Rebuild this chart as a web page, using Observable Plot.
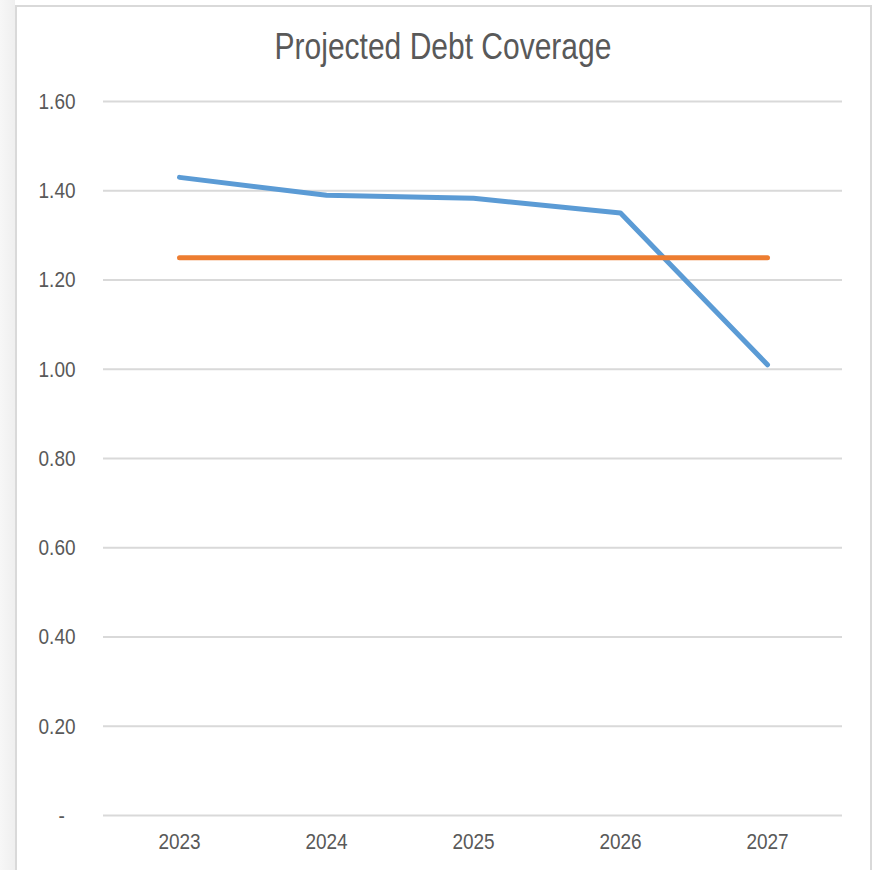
<!DOCTYPE html>
<html>
<head>
<meta charset="utf-8">
<script src="https://cdn.jsdelivr.net/npm/d3@7"></script>
<script src="https://cdn.jsdelivr.net/npm/@observablehq/plot@0.6"></script>
<style>
  html, body { margin: 0; padding: 0; background: #fff; }
  #page { position: relative; width: 872px; height: 870px; overflow: hidden; font-family: "Liberation Sans", Arial, sans-serif; }
  #strip { position: absolute; left: 0; top: 0; width: 15px; height: 870px; background: linear-gradient(to right, #f7f7f7, #efefef); }
  #frame { position: absolute; left: 15px; top: 5px; width: 853px; height: 900px; border: 2px solid #d9d9d9; background: #fff; }
  #title { position: absolute; left: 0; width: 886px; top: 33.6px; text-align: center; font-size: 30px; line-height: 30px; color: #595959; transform: scaleY(1.2); transform-origin: 50% 25.4px; white-space: nowrap; }
  #chart { position: absolute; left: 0; top: 0; }
</style>
</head>
<body>
<div id="page">
  <div id="strip"></div>
  <div id="frame"></div>
  <div id="title">Projected Debt Coverage</div>
  <div id="chart"></div>
</div>
<script>
const years = ["2023", "2024", "2025", "2026", "2027"];
const coverage = [1.43, 1.39, 1.383, 1.35, 1.01];
const required = [1.25, 1.25, 1.25, 1.25, 1.25];
const yTicks = [0, 0.2, 0.4, 0.6, 0.8, 1.0, 1.2, 1.4, 1.6];

const data = years.map((year, i) => ({year, coverage: coverage[i], required: required[i]}));

const chart = Plot.plot({
  width: 872,
  height: 870,
  marginLeft: 103,
  marginRight: 30,
  marginTop: 101,
  marginBottom: 55,
  style: {fontFamily: "'Liberation Sans', Arial, sans-serif", fontSize: "19px", color: "#595959", background: "transparent"},
  x: {type: "point", domain: years, padding: 0.5, label: null},
  y: {domain: [0, 1.6], label: null},
  marks: [
    Plot.gridY(yTicks, {stroke: "#d9d9d9", strokeOpacity: 1, strokeWidth: 2}),
    Plot.axisY(yTicks, {tickSize: 0, tickPadding: 28, label: null,
      tickFormat: d => d === 0 ? "-\u00a0\u00a0" : d.toFixed(2)}),
    Plot.axisX({tickSize: 0, tickPadding: 19, label: null}),
    Plot.line(data, {x: "year", y: "coverage", stroke: "#5b9bd5", strokeWidth: 5, strokeLinecap: "round", strokeLinejoin: "round"}),
    Plot.line(data, {x: "year", y: "required", stroke: "#ed7d31", strokeWidth: 5, strokeLinecap: "round", strokeLinejoin: "round"})
  ]
});
document.getElementById("chart").appendChild(chart);

// The reference's text is slightly stretched vertically; mimic that around each label's own centre.
d3.select(chart).selectAll('g[aria-label$="tick label"] text').each(function() {
  const b = this.getBBox();
  const cy = b.y + b.height / 2;
  const t = this.getAttribute("transform") || "";
  this.setAttribute("transform", `${t} translate(0,${cy}) scale(1,1.2) translate(0,${-cy})`);
});
</script>
</body>
</html>
